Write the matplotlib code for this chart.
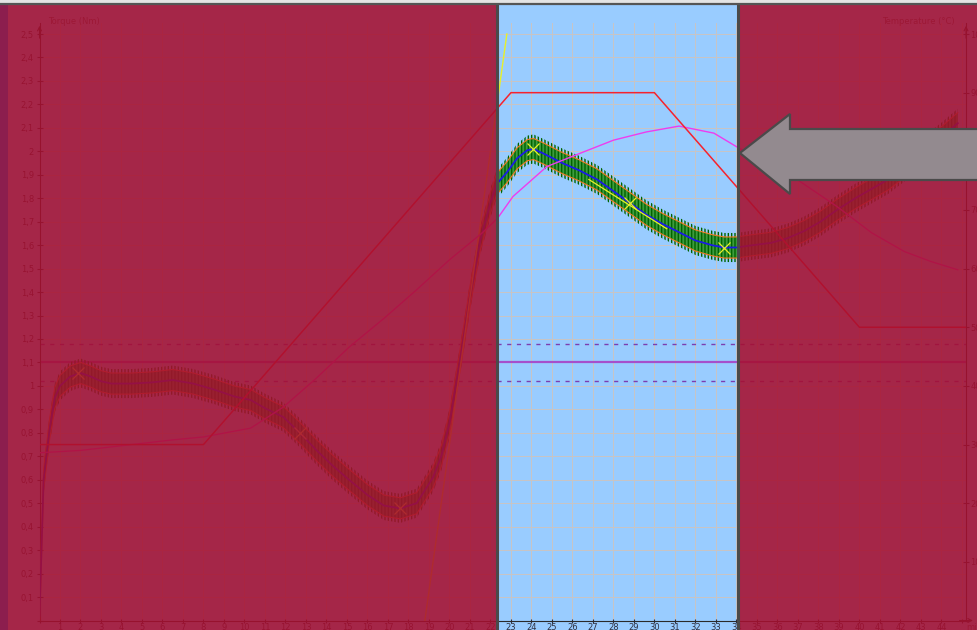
import matplotlib

matplotlib.use("Agg")
import matplotlib.pyplot as plt
from matplotlib.lines import Line2D
from matplotlib.patches import Polygon, Rectangle
from matplotlib.ticker import FuncFormatter, MultipleLocator

# ---- data ----
# torque trace, time in min, torque in Nm (centre of the noisy band)
torque_t = [0.0, 0.2, 0.5, 0.75, 1.0, 1.5, 2.0, 2.5, 3.0, 3.5, 4.5, 5.5, 6.5, 7.5,
            8.5, 9.5, 10.3, 11.0, 11.9, 12.7, 13.5, 14.3, 15.1, 16.0, 16.8, 17.6,
            18.4, 19.2, 19.6, 20.0, 20.5, 21.0, 21.5, 22.0, 22.3, 22.8, 23.3, 23.8,
            24.1, 24.6, 25.5, 26.3, 27.2, 28.0, 28.8, 29.6, 30.4, 31.2, 32.0, 32.8,
            33.4, 34.0, 34.8, 35.7, 36.5, 37.3, 38.1, 38.9, 39.8, 40.6, 41.4, 42.3,
            43.1, 44.0, 44.8]
torque_mean = [0.02, 0.60, 0.82, 0.95, 1.00, 1.04, 1.055, 1.04, 1.02, 1.01, 1.01,
               1.015, 1.025, 1.01, 0.985, 0.955, 0.94, 0.905, 0.867, 0.80, 0.727,
               0.66, 0.60, 0.535, 0.49, 0.478, 0.50, 0.61, 0.70, 0.84, 1.10, 1.38,
               1.62, 1.78, 1.86, 1.91, 1.97, 2.005, 2.01, 1.99, 1.95, 1.92, 1.88,
               1.83, 1.78, 1.73, 1.69, 1.655, 1.62, 1.60, 1.59, 1.59, 1.60, 1.61,
               1.63, 1.66, 1.70, 1.75, 1.80, 1.84, 1.88, 1.94, 2.00, 2.06, 2.12]
band_half = 0.045  # half height of the orange envelope
spike_half = 0.062  # half height of the green noise spikes

# measured temperature (degC)
temp_t = [0.0, 2.0, 4.0, 6.5, 8.0, 10.3, 11.9, 13.5, 15.1, 16.8, 18.4, 20.0, 21.6,
          22.35, 23.1, 24.75, 26.4, 28.0, 29.6, 31.2, 32.9, 34.0, 35.5, 37.0, 38.9,
          40.6, 42.2, 43.5, 44.8]
temp_meas = [28.6, 29.0, 29.8, 30.8, 31.3, 32.8, 36.4, 41.3, 46.6, 51.5, 56.4, 61.5,
             66.1, 68.6, 72.3, 77.4, 79.7, 81.9, 83.3, 84.3, 83.1, 80.8, 77.8, 75.1,
             70.6, 66.1, 62.9, 61.2, 59.8]

# temperature set point (degC)
setpoint_t = [0, 8, 23, 30, 40, 45.2]
setpoint_c = [30, 30, 90, 90, 50, 50]

# steep helper line and cross marks on the torque trace
slope_t = [18.8, 22.8]
slope_v = [0.0, 2.5]
tangent_t = [26.8, 30.6]
tangent_v = [1.88, 1.67]
marks_t = [1.9, 12.7, 17.6, 24.1, 28.8, 33.4]
marks_v = [1.055, 0.80, 0.478, 2.01, 1.78, 1.59]

# torque limits
limit_upper = 1.177
limit_mid = 1.10
limit_lower = 1.021

# highlighted time window (min)
window = [22.3, 34.07]

W, H = 977, 630
BLUE = "#99CCFF"
RED = "#A70F2F"
EDGE = "#4A4A4A"
GRID = "#C9C4C4"

fig = plt.figure(figsize=(W / 100, H / 100), dpi=100, facecolor=BLUE)
rect = [39.5 / W, 9.5 / H, (966 - 39.5) / W, (620.5 - 23) / H]
ax = fig.add_axes(rect)
ax.set_facecolor(BLUE)
ax.set_xlim(0, 45.2)
ax.set_ylim(0, 2.547)


def fmt_torque(v, _pos):
    if v < 0.05 or v > 2.52:
        return ""
    s = f"{v:.1f}".replace(".", ",")
    return s[:-2] if s.endswith(",0") else s


def fmt_time(v, _pos):
    n = int(round(v))
    return "" if n < 1 or n > 44 else str(n)


ax.xaxis.set_major_locator(MultipleLocator(1))
ax.yaxis.set_major_locator(MultipleLocator(0.1))
ax.yaxis.set_major_formatter(FuncFormatter(fmt_torque))
ax.xaxis.set_major_formatter(FuncFormatter(fmt_time))
ax.grid(True, color=GRID, lw=0.7, zorder=0)
ax.set_axisbelow(True)
ax.tick_params(axis="y", direction="inout", length=4, width=0.8, labelsize=6,
               colors="#2E3040", pad=2)
ax.tick_params(axis="x", direction="inout", length=3, width=0.8, labelsize=6,
               colors="#2E3040", pad=0)
for side in ("top", "right"):
    ax.spines[side].set_visible(False)
for side in ("left", "bottom"):
    ax.spines[side].set_color("#2A2A2A")

# limit lines
ax.axhline(limit_mid, color="#A64FCB", lw=1.6, zorder=2)
ax.axhline(limit_upper, color="#7C3EB0", lw=1.0, ls=(0, (3, 4)), zorder=2)
ax.axhline(limit_lower, color="#7C3EB0", lw=1.0, ls=(0, (3, 4)), zorder=2)

# noisy torque band: green fill with darker vertical hatching for the spikes
lo = [m - band_half for m in torque_mean]
hi = [m + band_half for m in torque_mean]
lo_sp = [m - spike_half for m in torque_mean]
hi_sp = [m + spike_half for m in torque_mean]
plt.rcParams["hatch.linewidth"] = 1.0
ax.fill_between(torque_t, lo, hi, facecolor="#3E9B3E", edgecolor="none",
                zorder=3)
ax.fill_between(torque_t, lo_sp, hi_sp, facecolor="none", edgecolor="#006400",
                hatch="|||||", linewidth=0, zorder=3)
ax.plot(torque_t, hi, color="#F47A22", lw=0.8, zorder=4)
ax.plot(torque_t, lo, color="#F47A22", lw=0.8, zorder=4)
ax.plot(torque_t, torque_mean, color="#1A1AE6", lw=1.3, zorder=5)

ax.plot(slope_t, slope_v, color="#E8F028", lw=1.0, zorder=5)
ax.plot(tangent_t, tangent_v, color="#E8F028", lw=0.9, zorder=6)
ax.plot(marks_t, marks_v, ls="none", marker="x", ms=8, mew=0.9,
        color="#E8F028", zorder=6)

# temperature axis
ax2 = ax.twinx()
ax2.set_ylim(0, 2.547 * 40)
ax2.yaxis.set_major_locator(MultipleLocator(10))
ax2.yaxis.set_major_formatter(
    FuncFormatter(lambda v, _p: "" if v < 5 else str(int(round(v)))))
ax2.tick_params(direction="inout", length=4, width=0.8, labelsize=6,
                colors="#2E3040", pad=1)
for side in ("top", "left", "bottom"):
    ax2.spines[side].set_visible(False)
ax2.spines["right"].set_color("#2A2A2A")
ax2.plot(temp_t, temp_meas, color="#EE3CEE", lw=1.0)
ax2.plot(setpoint_t, setpoint_c, color="#F5222E", lw=1.1)

# axis arrows and titles
arrow_kw = dict(arrowstyle="->", color="#2A2A2A", lw=0.8, mutation_scale=7)
ax.annotate("", xy=(0, 1.0), xycoords="axes fraction", xytext=(0, 0.97),
            arrowprops=arrow_kw, annotation_clip=False)
ax.annotate("", xy=(1, 1.0), xycoords="axes fraction", xytext=(1, 0.97),
            arrowprops=arrow_kw, annotation_clip=False)
ax.annotate("", xy=(1.0105, 0), xycoords="axes fraction", xytext=(0.99, 0),
            arrowprops=arrow_kw, annotation_clip=False)
fig.text(48 / W, 1 - 21 / H, "Torque (Nm)", fontsize=6, color="#555560",
         va="center", ha="left")
fig.text(955 / W, 1 - 21 / H, "Temperature (°C)", fontsize=6, color="#555560",
         va="center", ha="right")
fig.text(966 / W, 1 - 627 / H, "min", fontsize=6, color="#555560",
         va="center", ha="left")

# masking overlays outside the window
x_left = ax.transData.transform((window[0], 0))[0] / W
x_right = ax.transData.transform((window[1], 0))[0] / W
top = 1 - 4 / H
for x0, x1 in ((0, x_left), (x_right, 1)):
    fig.add_artist(Rectangle((x0, 0), x1 - x0, top, transform=fig.transFigure,
                             facecolor=RED, edgecolor="none", alpha=0.88,
                             zorder=20))
fig.add_artist(Rectangle((0, 0), 8 / W, top, transform=fig.transFigure,
                         facecolor="#8C1E4E", edgecolor="none", zorder=21))
for xf in (x_left, x_right):
    fig.add_artist(Line2D([xf, xf], [0, top], transform=fig.transFigure,
                          color=EDGE, lw=2.2, zorder=22))
fig.add_artist(Rectangle((0, top), 1, 1 - top, transform=fig.transFigure,
                         facecolor="#E4E4E4", edgecolor="none", zorder=22))
fig.add_artist(Line2D([0, 1], [top, top], transform=fig.transFigure,
                      color="#555555", lw=1.6, zorder=23))

# pointer arrow
tip_x = x_right * W + 2
pts_px = [(tip_x, 153), (790, 114), (790, 129), (985, 129),
          (985, 180), (790, 180), (790, 194)]
pts = [(px / W, 1 - py / H) for px, py in pts_px]
fig.add_artist(Polygon(pts, closed=True, transform=fig.transFigure,
                       facecolor="#938A8F", edgecolor=EDGE, lw=1.6, zorder=24))

fig.savefig("out.png", dpi=100, facecolor=BLUE)
